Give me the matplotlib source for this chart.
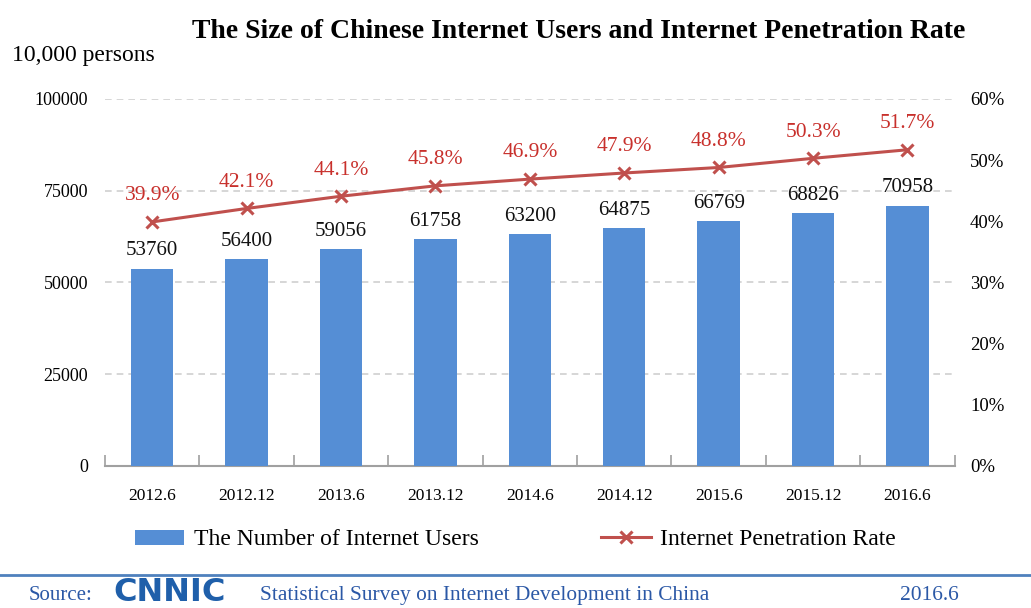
import matplotlib.pyplot as plt
import numpy as np
from matplotlib.lines import Line2D
from matplotlib.patches import Patch

plt.rcParams['font.family'] = ['Liberation Serif', 'DejaVu Serif']

periods = ['2012.6', '2012.12', '2013.6', '2013.12', '2014.6', '2014.12', '2015.6', '2015.12', '2016.6']
users = [53760, 56400, 59056, 61758, 63200, 64875, 66769, 68826, 70958]
rate = [39.9, 42.1, 44.1, 45.8, 46.9, 47.9, 48.8, 50.3, 51.7]

bar_c = '#558ED5'
line_c = '#C0504D'
lab_c = '#C8302C'
blue_txt = '#2B58A6'

fig = plt.figure(figsize=(10.31, 6.08), dpi=100)
ax = fig.add_axes([0.1018, 0.2336, 0.8242, 0.6036])
x = np.arange(len(periods))

ax.bar(x, users, width=0.45, color=bar_c, zorder=3)
ax.set_xlim(-0.5, len(periods) - 0.5)
ax.set_ylim(0, 100000)
ax.set_yticks([0, 25000, 50000, 75000, 100000])
ax.set_yticklabels(['0', '25000', '50000', '75000', '100000'], fontsize=13)
ax.tick_params(axis='y', length=0, pad=12)
for v in [25000, 50000, 75000, 100000]:
    ax.axhline(v, color='#d0d0d0', lw=1.2, ls=(0, (4, 3)), zorder=1)
ax.set_xticks(x)
ax.set_xticklabels(periods, fontsize=12.5)
ax.tick_params(axis='x', length=0, pad=16)
ax.set_xticks(np.arange(-0.5, len(periods)), minor=True)
ax.tick_params(axis='x', which='minor', length=8, direction='in', color='#a0a0a0', width=1.2)
for s in ['top', 'left', 'right']:
    ax.spines[s].set_visible(False)
ax.spines['bottom'].set_color('#a0a0a0')
ax.spines['bottom'].set_linewidth(1.5)

for xi, v in zip(x, users):
    ax.annotate(str(v), (xi, v), xytext=(0, 6), textcoords='offset points',
                ha='center', va='bottom', fontsize=15, color='#111111')

ax2 = ax.twinx()
ax2.set_ylim(0, 60)
ax2.set_yticks([0, 10, 20, 30, 40, 50, 60])
ax2.set_yticklabels([f'{t}%' for t in range(0, 70, 10)], fontsize=13.5)
ax2.tick_params(axis='y', length=0, pad=11)
for s in ['top', 'left', 'right', 'bottom']:
    ax2.spines[s].set_visible(False)
ax2.plot(x, rate, color=line_c, lw=2.2, marker='x', ms=8, mew=2.2, zorder=5)
for xi, v in zip(x, rate):
    ax2.annotate(f'{v}%', (xi, v), xytext=(0, 12), textcoords='offset points',
                 ha='center', va='bottom', fontsize=15.5, color=lab_c)

fig.text(0.561, 0.949, 'The Size of Chinese Internet Users and Internet Penetration Rate',
         ha='center', va='center', fontsize=20, fontweight='bold')
fig.text(0.012, 0.908, '10,000 persons', ha='left', va='center', fontsize=17)

handles = [Patch(facecolor=bar_c, edgecolor='none'),
           Line2D([0], [0], color=line_c, lw=2.2, marker='x', ms=8, mew=2.2)]
fig.legend(handles, ['The Number of Internet Users', 'Internet Penetration Rate'],
           loc='center', bbox_to_anchor=(0.5, 0.112), ncol=2, frameon=False,
           fontsize=17, handlelength=2.1, handleheight=0.6, columnspacing=5.2, handletextpad=0.4)

fig.add_artist(Line2D([0.0, 1.0], [0.055, 0.055], color='#4F81BD', lw=2, transform=fig.transFigure))
fig.text(0.028, 0.021, 'Source:', ha='left', va='center', fontsize=15, color=blue_txt)
fig.text(0.11, 0.026, 'CNNIC', ha='left', va='center', fontsize=23, fontweight='heavy',
         family='DejaVu Sans', color='#1F5FAA')
fig.text(0.252, 0.021, 'Statistical Survey on Internet Development in China', ha='left', va='center',
         fontsize=15.4, color=blue_txt)
fig.text(0.873, 0.021, '2016.6', ha='left', va='center', fontsize=15.5, color=blue_txt)

fig.savefig('out.png', dpi=100)
